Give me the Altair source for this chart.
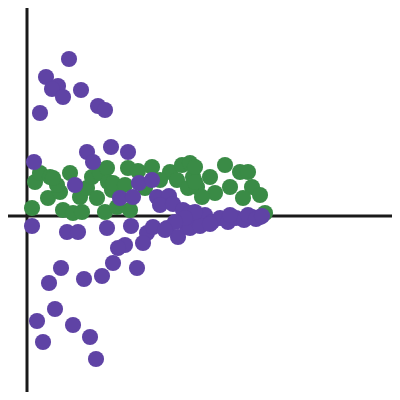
import altair as alt
import pandas as pd

purple_x = [4.2, 1.9, 3.1, 2.5, 3.6, 5.4, 7.1, 7.8, 1.3, 8.4, 10.1, 6.0, 6.6, 0.7, 4.8, 11.2, 12.5,
            9.3, 10.6, 13.0, 14.2, 0.5, 4.0, 5.1, 8.0, 10.4, 12.0, 12.6, 14.0, 15.1, 16.0, 11.6, 9.8,
            9.1, 8.6, 11.0, 3.4, 7.5, 5.7, 2.2, 2.8, 1.0, 4.6, 6.3, 1.6, 6.9,
            13.3, 14.6, 15.6, 16.3, 17.0, 17.8, 18.5, 19.3, 20.1, 20.9, 21.7, 22.5, 23.3,
            16.3, 17.3, 18.3, 16.8, 15.8, 14.8, 13.8, 20.3, 22.1, 22.9, 23.5]
purple_y = [15.7, 13.9, 13.0, 12.7, 11.9, 12.6, 11.0, 10.6, 10.3, 6.9, 6.4, 6.4, 5.4, 5.4, 3.1, 3.3, 3.6,
            1.8, 1.9, 1.9, 2.0, -1.0, -1.6, -1.6, -1.2, -1.0, -1.7, -1.1, -1.2, -2.1, -1.1, -2.7, -2.9,
            -3.2, -4.7, -5.2, -5.2, -6.0, -6.3, -6.7, -9.3, -10.5, -10.9, -12.1, -12.6, -14.3,
            1.1, 1.2, 0.6, 0.3, -0.4, 0.1, -0.6, -0.2, -0.6, -0.2, -0.4, -0.1, -0.1,
            -1.2, -1.0, -0.8, 0.4, -0.2, -0.6, -1.4, 0.1, 0.1, -0.3, 0.0]

green_x = [0.8, 1.3, 2.3, 0.5, 2.1, 3.3, 4.3, 3.6, 4.6, 5.5, 5.3, 6.0, 6.5, 7.3, 8.0, 8.1, 8.5, 7.0,
           7.8, 3.0, 2.6, 10.1, 12.5, 8.6, 14.3, 15.5, 16.3, 16.6, 15.0, 16.1, 17.0, 10.3, 9.0,
           16.8, 19.8, 21.3, 22.1, 18.3, 20.3, 22.5, 23.3, 16.8, 18.8, 21.6, 23.8, 17.5, 11.1,
           13.3, 11.8, 9.8]
green_y = [3.4, 4.3, 3.9, 0.8, 1.8, 2.4, 4.3, 0.6, 0.3, 0.4, 1.9, 2.8, 3.9, 4.3, 4.8, 3.4, 2.6, 1.8,
           0.4, 3.1, 3.8, 4.8, 4.9, 3.3, 4.4, 5.1, 5.3, 3.9, 3.6, 2.8, 2.9, 0.6, 0.9,
           4.9, 5.1, 4.4, 4.4, 3.9, 2.9, 2.9, 2.1, 3.4, 2.3, 1.8, 0.3, 1.9, 4.5,
           3.6, 2.8, 3.1]

df = pd.concat([
    pd.DataFrame({"x": green_x, "y": green_y, "g": "green"}),
    pd.DataFrame({"x": purple_x, "y": purple_y, "g": "purple"}),
])

xs = alt.Scale(domain=[-1.9, 36.5], nice=False, zero=False)
ys = alt.Scale(domain=[-17.6, 20.8], nice=False, zero=False)

pts = alt.Chart(df).mark_circle(size=260, opacity=1).encode(
    x=alt.X("x:Q", scale=xs, axis=None),
    y=alt.Y("y:Q", scale=ys, axis=None),
    color=alt.Color("g:N", scale=alt.Scale(domain=["green", "purple"], range=["#3a8b46", "#5f43a5"]), legend=None),
    order=alt.Order("g:N"),
)

zero = pd.DataFrame({"z": [0]})
vline = alt.Chart(zero).mark_rule(color="#1a1a1a", strokeWidth=3).encode(x=alt.X("z:Q", scale=xs, axis=None))
hline = alt.Chart(zero).mark_rule(color="#1a1a1a", strokeWidth=3).encode(y=alt.Y("z:Q", scale=ys, axis=None))

chart = alt.layer(vline, hline, pts).properties(
    width=384, height=384, padding=0, autosize=alt.AutoSizeParams(type="none")
).configure_view(stroke=None)

chart.save("out.html", embed_options={"renderer": "svg", "actions": False})
